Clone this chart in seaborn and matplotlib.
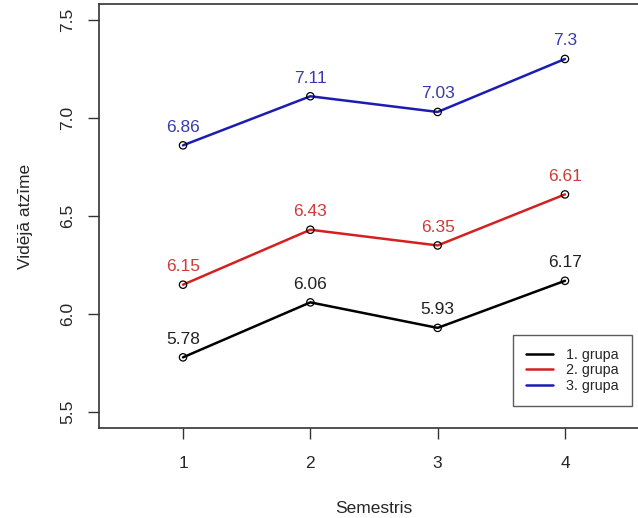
import matplotlib
matplotlib.use("Agg")
import matplotlib.pyplot as plt
import seaborn as sns
import pandas as pd

semesters = [1, 2, 3, 4]
group_names = ["1. grupa", "2. grupa", "3. grupa"]
grupa1 = [5.78, 6.06, 5.93, 6.17]
grupa2 = [6.15, 6.43, 6.35, 6.61]
grupa3 = [6.86, 7.11, 7.03, 7.30]
label1 = ["5.78", "6.06", "5.93", "6.17"]
label2 = ["6.15", "6.43", "6.35", "6.61"]
label3 = ["6.86", "7.11", "7.03", "7.3"]
yticks = [5.5, 6.0, 6.5, 7.0, 7.5]

line_colors = ["#000000", "#d42020", "#1c1cb4"]
text_colors = ["#222222", "#d03a3a", "#3a3ab0"]

rows = []
for name, vals in zip(group_names, [grupa1, grupa2, grupa3]):
    for s, v in zip(semesters, vals):
        rows.append({"Semestris": s, "value": v, "grupa": name})
df = pd.DataFrame(rows)

sns.set_style("white")
plt.rcParams['font.family'] = ['Liberation Sans', 'DejaVu Sans']

fig = plt.figure(figsize=(6.38, 5.18), dpi=100)
W, H = 638, 518
ax = fig.add_axes([99 / W, (H - 428) / H, 550 / W, 424 / H])

sns.lineplot(data=df, x="Semestris", y="value", hue="grupa",
             palette=dict(zip(group_names, line_colors)), linewidth=1.8,
             ax=ax, legend=True)
# open circle markers
for name, vals in zip(group_names, [grupa1, grupa2, grupa3]):
    ax.scatter(semesters, vals, s=28, facecolors="none", edgecolors="black",
               linewidths=0.9, zorder=3)

for vals, labs, tc in zip([grupa1, grupa2, grupa3], [label1, label2, label3], text_colors):
    for s, v, lab in zip(semesters, vals, labs):
        ax.annotate(lab, (s, v), xytext=(0, 9.8), textcoords="offset points",
                    ha="center", va="baseline", color=tc, fontsize=12.5)

ax.set_xlim(0.34, 4.66)
ax.set_ylim(5.42, 7.58)
ax.set_xticks(semesters)
ax.set_xticklabels([str(s) for s in semesters], fontsize=12.5)
ax.set_yticks(yticks)
ax.set_yticklabels([f"{t:.1f}" for t in yticks], fontsize=12.5, rotation=90, va="center")
ax.tick_params(axis="both", direction="out", length=8, width=1, color="#333333",
               bottom=True, left=True)
ax.tick_params(axis="x", pad=12)
ax.tick_params(axis="y", pad=9)
for sp in ax.spines.values():
    sp.set_color("#333333")
    sp.set_linewidth(1.2)
    sp.set_visible(True)

ax.set_xlabel("Semestris", fontsize=12.5, labelpad=22)
ax.set_ylabel("Vidējā atzīme", fontsize=12.5, labelpad=20)

handles, labels = ax.get_legend_handles_labels()
leg = ax.legend(handles[:3], labels[:3], loc="lower left",
                bbox_to_anchor=(0.753, 0.052), borderaxespad=0, frameon=True, fancybox=False,
                edgecolor="#333333", fontsize=10.3, handlelength=1.9,
                borderpad=0.9, labelspacing=0.12, handletextpad=0.9)
leg.get_frame().set_linewidth(1.0)

fig.savefig("out.png", dpi=100)
